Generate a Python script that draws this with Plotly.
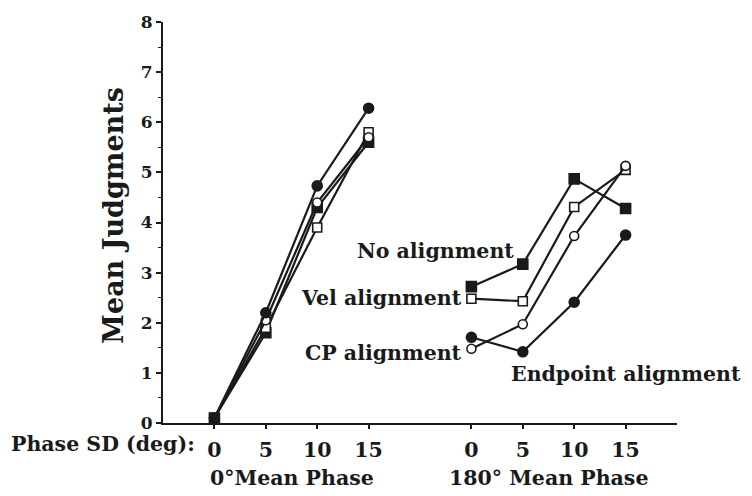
import plotly.graph_objects as go

# Phase SD conditions (deg) for each mean-phase group
phase_sd = ["0", "5", "10", "15"]
groups = ["0°Mean Phase", "180° Mean Phase"]

# Mean judgments per alignment condition: [0° mean phase], [180° mean phase]
no_align_0 = [0.1, 1.8, 4.3, 5.6]
no_align_180 = [2.72, 3.17, 4.87, 4.28]
vel_align_0 = [0.1, 1.9, 3.9, 5.8]
vel_align_180 = [2.48, 2.43, 4.31, 5.05]
cp_align_0 = [0.1, 2.05, 4.4, 5.7]
cp_align_180 = [1.48, 1.97, 3.73, 5.13]
end_align_0 = [0.1, 2.2, 4.73, 6.28]
end_align_180 = [1.71, 1.42, 2.41, 3.75]

# category slots along the axis (gap of one slot between groups)
pos_0 = [0, 1, 2, 3]
pos_180 = [5, 6, 7, 8]

FONT = "DejaVu Serif"
INK = "#1a1a1a"
TXT = 20.5


def bold(size):
    return dict(family=FONT, size=size, color=INK, weight="bold")


series = [
    ("No alignment", no_align_0, no_align_180, "square", INK, 10),
    ("Vel alignment", vel_align_0, vel_align_180, "square", "white", 9),
    ("CP alignment", cp_align_0, cp_align_180, "circle", "white", 9),
    ("Endpoint alignment", end_align_0, end_align_180, "circle", INK, 10),
]

fig = go.Figure()
for name, v0, v180, sym, fill, size in series:
    xs = pos_0 + [None] + pos_180
    ys = v0 + [None] + v180
    fig.add_trace(go.Scatter(
        x=xs, y=ys, mode="lines+markers", name=name,
        connectgaps=False,
        line=dict(color=INK, width=2.2),
        marker=dict(symbol=sym, size=size, color=fill,
                    line=dict(color=INK, width=1.6)),
        showlegend=False,
    ))

# series labels placed next to the 180° curves
labels = [
    ("No alignment", 5.87, 3.44, "right"),
    ("Vel alignment", 4.86, 2.5, "right"),
    ("CP alignment", 4.86, 1.4, "right"),
    ("Endpoint alignment", 5.74, 0.97, "left"),
]
for text, x, y, anchor in labels:
    fig.add_annotation(x=x, y=y, xref="x", yref="y", text=text,
                       showarrow=False, xanchor=anchor, yanchor="middle",
                       font=bold(TXT))

# group titles under the tick labels
fig.add_annotation(x=1.5, y=-0.138, xref="x", yref="paper", text=groups[0],
                   showarrow=False, xanchor="center", yanchor="middle",
                   font=bold(TXT))
fig.add_annotation(x=6.5, y=-0.138, xref="x", yref="paper", text=groups[1],
                   showarrow=False, xanchor="center", yanchor="middle",
                   font=bold(TXT))
fig.add_annotation(x=0.066, y=-0.052, xref="paper", yref="paper",
                   text="Phase SD (deg):", showarrow=False,
                   xanchor="right", yanchor="middle",
                   font=bold(TXT))

# y-axis title
fig.add_annotation(x=-0.096, y=0.518, xref="paper", yref="paper",
                   text="Mean Judgments", textangle=-90, showarrow=False,
                   xanchor="center", yanchor="middle", font=bold(27))

fig.update_layout(
    width=752, height=496,
    margin=dict(l=163, r=75, t=12, b=73),
    plot_bgcolor="white", paper_bgcolor="white",
    font=dict(family=FONT, color=INK),
    xaxis=dict(
        range=[-1, 9], tickmode="array",
        tickvals=pos_0 + pos_180, ticktext=phase_sd + phase_sd,
        showline=True, linecolor=INK, linewidth=2,
        ticks="outside", ticklen=4, tickwidth=1.5, tickcolor=INK,
        ticklabelstandoff=3,
        showgrid=False, zeroline=False,
        tickfont=bold(TXT),
    ),
    yaxis=dict(
        range=[0, 8], tickmode="linear", tick0=0, dtick=1,
        showline=True, linecolor=INK, linewidth=2,
        ticks="outside", ticklen=5, tickwidth=1.5, tickcolor=INK,
        minor=dict(dtick=0.5, ticks="outside", ticklen=3, tickcolor=INK, tickwidth=1),
        showgrid=False, zeroline=False,
        tickfont=bold(17),
    ),
)

fig.write_html("out.html")
